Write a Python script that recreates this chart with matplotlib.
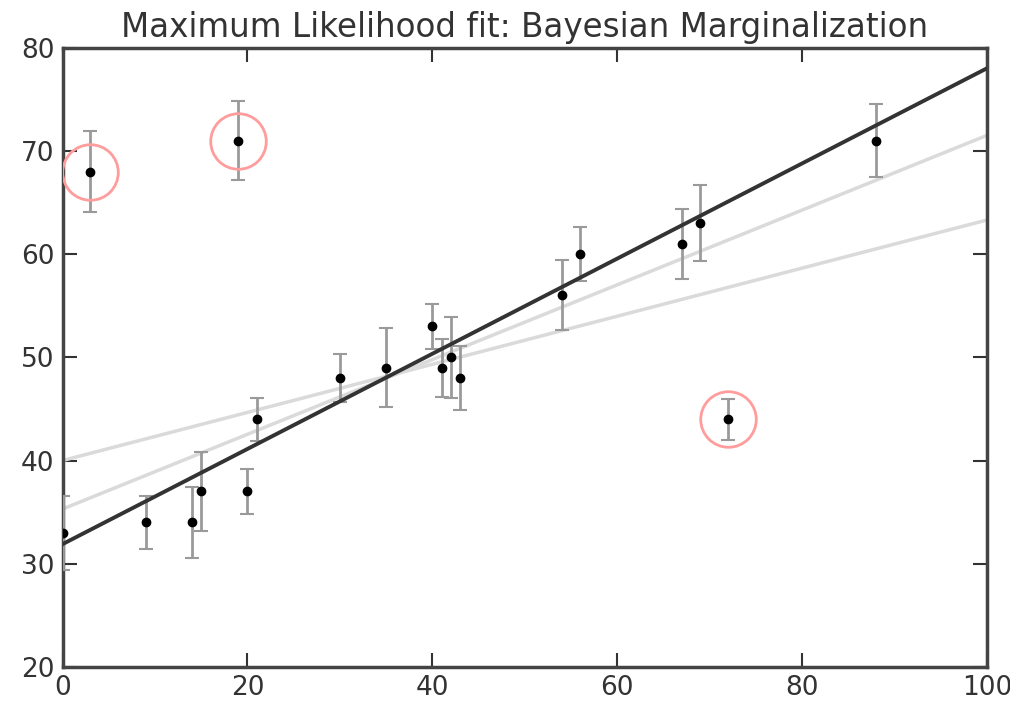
import numpy as np
import matplotlib
matplotlib.use("Agg")
import matplotlib.pyplot as plt

# Observations with per-point uncertainties
x = np.array([0, 3, 9, 14, 15, 19, 20, 21, 30, 35, 40, 41, 42, 43, 54, 56, 67, 69, 72, 88])
y = np.array([33, 68, 34, 34, 37, 71, 37, 44, 48, 49, 53, 49, 50, 48, 56, 60, 61, 63, 44, 71])
e = np.array([3.6, 3.9, 2.6, 3.4, 3.8, 3.8, 2.2, 2.1, 2.3, 3.8, 2.2, 2.8, 3.9, 3.1,
              3.4, 2.6, 3.4, 3.7, 2.0, 3.5])

# Points flagged as outliers by the marginalized model
outlier_idx = [1, 5, 18]

# Fit parameters (intercept, slope)
theta_standard = (40.0, 0.233)
theta_huber = (35.3, 0.362)
theta_bayes = (31.9, 0.461)

plt.rcParams.update({
    "font.family": "DejaVu Sans",
    "xtick.direction": "in",
    "ytick.direction": "in",
    "xtick.top": True,
    "ytick.right": True,
})

fig = plt.figure(figsize=(10.1, 7.02), dpi=100)
ax = fig.add_axes([0.062, 0.05, 0.915, 0.882])

xfit = np.linspace(0, 100, 2)
ax.plot(xfit, theta_standard[0] + theta_standard[1] * xfit, color="#dadada", lw=2.5, zorder=2)
ax.plot(xfit, theta_huber[0] + theta_huber[1] * xfit, color="#dadada", lw=2.5, zorder=2)

ax.errorbar(x, y, e, fmt="o", color="black", ms=6, ecolor="#9a9a9a",
            elinewidth=2, capsize=5, capthick=1.5, zorder=3)
ax.plot(xfit, theta_bayes[0] + theta_bayes[1] * xfit, color="#333333", lw=2.8, zorder=4)
ax.plot(x[outlier_idx], y[outlier_idx], "o", ms=40, mfc="none",
        mec="#ff9c9c", mew=2, zorder=5)

ax.set_xlim(0, 100)
ax.set_ylim(20, 80)
ax.set_xticks([0, 20, 40, 60, 80, 100])
ax.set_yticks([20, 30, 40, 50, 60, 70, 80])
ax.tick_params(labelsize=19, length=10, width=1.5, colors="#333333", pad=6)
for s in ax.spines.values():
    s.set_linewidth(2.5)
    s.set_color("#444444")
ax.set_title("Maximum Likelihood fit: Bayesian Marginalization", fontsize=23.5,
             color="#333333", pad=8)

fig.savefig("out.png", dpi=100)
